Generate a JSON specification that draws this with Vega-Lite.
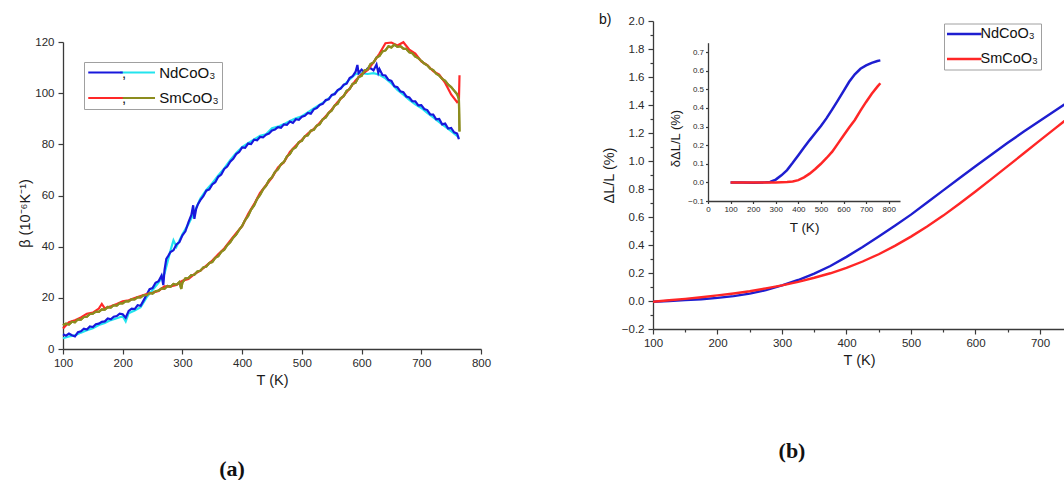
{
  "$schema": "https://vega.github.io/schema/vega-lite/v6.json",
  "background": "white",
  "padding": {"left": 17, "top": 13, "right": 0, "bottom": 0},
  "title": {"text": "b)", "anchor": "start", "frame": "group", "dx": 536, "dy": 12, "offset": 0, "font": "Liberation Sans", "fontSize": 14, "fontWeight": "normal", "color": "#111"},
  "config": {
    "view": {"stroke": null},
    "font": "Liberation Sans",
    "axis": {"grid": false, "domainColor": "#3a3a3a", "tickColor": "#3a3a3a", "labelColor": "#2a2a2a", "titleColor": "#1a1a1a", "labelFont": "Liberation Sans", "titleFont": "Liberation Sans", "titleFontWeight": "normal", "labelFontSize": 11.5, "titleFontSize": 14.5, "domainWidth": 1.3, "tickWidth": 1.2, "labelFlush": false, "labelOverlap": false}
  },
  "datasets": {
    "a": [
      {"T":100,"b":5.8,"s":"NdCoO₃","r":1},{"T":105,"b":5.2,"s":"NdCoO₃","r":1},{"T":110,"b":6.0,"s":"NdCoO₃","r":1},{"T":115,"b":5.4,"s":"NdCoO₃","r":1},{"T":120,"b":4.9,"s":"NdCoO₃","r":1},{"T":125,"b":6.6,"s":"NdCoO₃","r":1},{"T":130,"b":6.9,"s":"NdCoO₃","r":1},{"T":135,"b":7.9,"s":"NdCoO₃","r":1},{"T":140,"b":7.6,"s":"NdCoO₃","r":1},{"T":145,"b":8.8,"s":"NdCoO₃","r":1},{"T":150,"b":8.6,"s":"NdCoO₃","r":1},{"T":155,"b":9.7,"s":"NdCoO₃","r":1},{"T":160,"b":9.9,"s":"NdCoO₃","r":1},{"T":165,"b":10.6,"s":"NdCoO₃","r":1},{"T":170,"b":10.8,"s":"NdCoO₃","r":1},{"T":175,"b":11.9,"s":"NdCoO₃","r":1},{"T":180,"b":11.6,"s":"NdCoO₃","r":1},{"T":185,"b":12.6,"s":"NdCoO₃","r":1},{"T":190,"b":12.9,"s":"NdCoO₃","r":1},{"T":195,"b":13.8,"s":"NdCoO₃","r":1},{"T":200,"b":13.6,"s":"NdCoO₃","r":1},{"T":205,"b":12.2,"s":"NdCoO₃","r":1},{"T":210,"b":14.9,"s":"NdCoO₃","r":1},{"T":215,"b":15.8,"s":"NdCoO₃","r":1},{"T":220,"b":15.6,"s":"NdCoO₃","r":1},{"T":225,"b":17.1,"s":"NdCoO₃","r":1},{"T":230,"b":16.9,"s":"NdCoO₃","r":1},{"T":235,"b":19.0,"s":"NdCoO₃","r":1},{"T":240,"b":21.2,"s":"NdCoO₃","r":1},{"T":245,"b":23.4,"s":"NdCoO₃","r":1},{"T":250,"b":23.8,"s":"NdCoO₃","r":1},{"T":255,"b":25.9,"s":"NdCoO₃","r":1},{"T":260,"b":26.5,"s":"NdCoO₃","r":1},{"T":265,"b":28.7,"s":"NdCoO₃","r":1},{"T":268,"b":25.0,"s":"NdCoO₃","r":1},{"T":270,"b":30.8,"s":"NdCoO₃","r":1},{"T":273,"b":35.2,"s":"NdCoO₃","r":1},{"T":276,"b":36.3,"s":"NdCoO₃","r":1},{"T":280,"b":37.9,"s":"NdCoO₃","r":1},{"T":285,"b":38.6,"s":"NdCoO₃","r":1},{"T":290,"b":40.9,"s":"NdCoO₃","r":1},{"T":295,"b":41.8,"s":"NdCoO₃","r":1},{"T":300,"b":44.4,"s":"NdCoO₃","r":1},{"T":305,"b":46.0,"s":"NdCoO₃","r":1},{"T":310,"b":49.5,"s":"NdCoO₃","r":1},{"T":315,"b":52.4,"s":"NdCoO₃","r":1},{"T":318,"b":56.2,"s":"NdCoO₃","r":1},{"T":320,"b":50.9,"s":"NdCoO₃","r":1},{"T":323,"b":54.8,"s":"NdCoO₃","r":1},{"T":326,"b":56.6,"s":"NdCoO₃","r":1},{"T":330,"b":58.2,"s":"NdCoO₃","r":1},{"T":335,"b":59.7,"s":"NdCoO₃","r":1},{"T":340,"b":61.9,"s":"NdCoO₃","r":1},{"T":345,"b":62.4,"s":"NdCoO₃","r":1},{"T":350,"b":64.3,"s":"NdCoO₃","r":1},{"T":355,"b":65.2,"s":"NdCoO₃","r":1},{"T":360,"b":67.3,"s":"NdCoO₃","r":1},{"T":365,"b":68.2,"s":"NdCoO₃","r":1},{"T":370,"b":70.4,"s":"NdCoO₃","r":1},{"T":375,"b":71.3,"s":"NdCoO₃","r":1},{"T":380,"b":73.2,"s":"NdCoO₃","r":1},{"T":385,"b":74.3,"s":"NdCoO₃","r":1},{"T":390,"b":76.2,"s":"NdCoO₃","r":1},{"T":395,"b":77.0,"s":"NdCoO₃","r":1},{"T":400,"b":78.8,"s":"NdCoO₃","r":1},{"T":405,"b":78.6,"s":"NdCoO₃","r":1},{"T":410,"b":80.3,"s":"NdCoO₃","r":1},{"T":415,"b":80.1,"s":"NdCoO₃","r":1},{"T":420,"b":81.8,"s":"NdCoO₃","r":1},{"T":425,"b":81.6,"s":"NdCoO₃","r":1},{"T":430,"b":82.9,"s":"NdCoO₃","r":1},{"T":435,"b":82.7,"s":"NdCoO₃","r":1},{"T":440,"b":83.8,"s":"NdCoO₃","r":1},{"T":445,"b":84.2,"s":"NdCoO₃","r":1},{"T":450,"b":85.4,"s":"NdCoO₃","r":1},{"T":455,"b":85.8,"s":"NdCoO₃","r":1},{"T":460,"b":86.7,"s":"NdCoO₃","r":1},{"T":465,"b":86.5,"s":"NdCoO₃","r":1},{"T":470,"b":87.8,"s":"NdCoO₃","r":1},{"T":475,"b":87.6,"s":"NdCoO₃","r":1},{"T":480,"b":88.9,"s":"NdCoO₃","r":1},{"T":485,"b":88.4,"s":"NdCoO₃","r":1},{"T":490,"b":89.8,"s":"NdCoO₃","r":1},{"T":495,"b":89.6,"s":"NdCoO₃","r":1},{"T":500,"b":90.8,"s":"NdCoO₃","r":1},{"T":505,"b":91.2,"s":"NdCoO₃","r":1},{"T":510,"b":92.3,"s":"NdCoO₃","r":1},{"T":515,"b":92.0,"s":"NdCoO₃","r":1},{"T":520,"b":93.7,"s":"NdCoO₃","r":1},{"T":525,"b":94.2,"s":"NdCoO₃","r":1},{"T":530,"b":95.4,"s":"NdCoO₃","r":1},{"T":535,"b":95.8,"s":"NdCoO₃","r":1},{"T":540,"b":97.3,"s":"NdCoO₃","r":1},{"T":545,"b":97.6,"s":"NdCoO₃","r":1},{"T":550,"b":99.3,"s":"NdCoO₃","r":1},{"T":555,"b":99.6,"s":"NdCoO₃","r":1},{"T":560,"b":101.2,"s":"NdCoO₃","r":1},{"T":565,"b":101.8,"s":"NdCoO₃","r":1},{"T":570,"b":103.3,"s":"NdCoO₃","r":1},{"T":575,"b":103.7,"s":"NdCoO₃","r":1},{"T":580,"b":105.9,"s":"NdCoO₃","r":1},{"T":585,"b":106.6,"s":"NdCoO₃","r":1},{"T":590,"b":108.4,"s":"NdCoO₃","r":1},{"T":593,"b":111.0,"s":"NdCoO₃","r":1},{"T":595,"b":107.8,"s":"NdCoO₃","r":1},{"T":600,"b":109.2,"s":"NdCoO₃","r":1},{"T":605,"b":108.1,"s":"NdCoO₃","r":1},{"T":610,"b":109.6,"s":"NdCoO₃","r":1},{"T":615,"b":109.8,"s":"NdCoO₃","r":1},{"T":620,"b":108.9,"s":"NdCoO₃","r":1},{"T":625,"b":111.2,"s":"NdCoO₃","r":1},{"T":628,"b":108.0,"s":"NdCoO₃","r":1},{"T":630,"b":109.4,"s":"NdCoO₃","r":1},{"T":635,"b":107.1,"s":"NdCoO₃","r":1},{"T":640,"b":106.9,"s":"NdCoO₃","r":1},{"T":645,"b":105.2,"s":"NdCoO₃","r":1},{"T":650,"b":104.8,"s":"NdCoO₃","r":1},{"T":655,"b":102.7,"s":"NdCoO₃","r":1},{"T":660,"b":102.3,"s":"NdCoO₃","r":1},{"T":665,"b":100.7,"s":"NdCoO₃","r":1},{"T":670,"b":100.4,"s":"NdCoO₃","r":1},{"T":675,"b":98.7,"s":"NdCoO₃","r":1},{"T":680,"b":98.3,"s":"NdCoO₃","r":1},{"T":685,"b":96.9,"s":"NdCoO₃","r":1},{"T":690,"b":96.8,"s":"NdCoO₃","r":1},{"T":695,"b":95.2,"s":"NdCoO₃","r":1},{"T":700,"b":95.3,"s":"NdCoO₃","r":1},{"T":705,"b":93.8,"s":"NdCoO₃","r":1},{"T":710,"b":93.4,"s":"NdCoO₃","r":1},{"T":715,"b":91.7,"s":"NdCoO₃","r":1},{"T":720,"b":91.6,"s":"NdCoO₃","r":1},{"T":725,"b":89.8,"s":"NdCoO₃","r":1},{"T":730,"b":89.9,"s":"NdCoO₃","r":1},{"T":735,"b":87.8,"s":"NdCoO₃","r":1},{"T":740,"b":88.1,"s":"NdCoO₃","r":1},{"T":745,"b":86.2,"s":"NdCoO₃","r":1},{"T":750,"b":86.4,"s":"NdCoO₃","r":1},{"T":755,"b":84.7,"s":"NdCoO₃","r":1},{"T":760,"b":84.2,"s":"NdCoO₃","r":1},{"T":763,"b":82.0,"s":"NdCoO₃","r":1},
      {"T":100,"b":4.2,"s":"NdCoO₃","r":2},{"T":110,"b":4.9,"s":"NdCoO₃","r":2},{"T":120,"b":5.3,"s":"NdCoO₃","r":2},{"T":130,"b":6.4,"s":"NdCoO₃","r":2},{"T":140,"b":7.3,"s":"NdCoO₃","r":2},{"T":150,"b":8.1,"s":"NdCoO₃","r":2},{"T":160,"b":9.4,"s":"NdCoO₃","r":2},{"T":170,"b":10.2,"s":"NdCoO₃","r":2},{"T":180,"b":11.3,"s":"NdCoO₃","r":2},{"T":190,"b":12.0,"s":"NdCoO₃","r":2},{"T":200,"b":12.8,"s":"NdCoO₃","r":2},{"T":205,"b":10.8,"s":"NdCoO₃","r":2},{"T":210,"b":14.0,"s":"NdCoO₃","r":2},{"T":220,"b":15.0,"s":"NdCoO₃","r":2},{"T":230,"b":16.3,"s":"NdCoO₃","r":2},{"T":240,"b":20.2,"s":"NdCoO₃","r":2},{"T":250,"b":23.0,"s":"NdCoO₃","r":2},{"T":260,"b":26.0,"s":"NdCoO₃","r":2},{"T":270,"b":29.5,"s":"NdCoO₃","r":2},{"T":280,"b":38.5,"s":"NdCoO₃","r":2},{"T":285,"b":42.5,"s":"NdCoO₃","r":2},{"T":290,"b":40.0,"s":"NdCoO₃","r":2},{"T":300,"b":44.8,"s":"NdCoO₃","r":2},{"T":310,"b":48.8,"s":"NdCoO₃","r":2},{"T":320,"b":53.5,"s":"NdCoO₃","r":2},{"T":330,"b":58.8,"s":"NdCoO₃","r":2},{"T":340,"b":62.2,"s":"NdCoO₃","r":2},{"T":350,"b":64.8,"s":"NdCoO₃","r":2},{"T":360,"b":67.8,"s":"NdCoO₃","r":2},{"T":370,"b":70.6,"s":"NdCoO₃","r":2},{"T":380,"b":73.8,"s":"NdCoO₃","r":2},{"T":390,"b":76.6,"s":"NdCoO₃","r":2},{"T":400,"b":78.9,"s":"NdCoO₃","r":2},{"T":410,"b":80.5,"s":"NdCoO₃","r":2},{"T":420,"b":81.9,"s":"NdCoO₃","r":2},{"T":430,"b":83.3,"s":"NdCoO₃","r":2},{"T":440,"b":83.9,"s":"NdCoO₃","r":2},{"T":450,"b":86.3,"s":"NdCoO₃","r":2},{"T":460,"b":86.9,"s":"NdCoO₃","r":2},{"T":470,"b":87.9,"s":"NdCoO₃","r":2},{"T":480,"b":89.1,"s":"NdCoO₃","r":2},{"T":490,"b":90.2,"s":"NdCoO₃","r":2},{"T":500,"b":91.0,"s":"NdCoO₃","r":2},{"T":510,"b":92.5,"s":"NdCoO₃","r":2},{"T":520,"b":94.0,"s":"NdCoO₃","r":2},{"T":530,"b":95.5,"s":"NdCoO₃","r":2},{"T":540,"b":97.0,"s":"NdCoO₃","r":2},{"T":550,"b":99.0,"s":"NdCoO₃","r":2},{"T":560,"b":101.0,"s":"NdCoO₃","r":2},{"T":570,"b":103.0,"s":"NdCoO₃","r":2},{"T":580,"b":105.4,"s":"NdCoO₃","r":2},{"T":590,"b":107.5,"s":"NdCoO₃","r":2},{"T":600,"b":107.8,"s":"NdCoO₃","r":2},{"T":610,"b":107.5,"s":"NdCoO₃","r":2},{"T":620,"b":107.8,"s":"NdCoO₃","r":2},{"T":630,"b":107.2,"s":"NdCoO₃","r":2},{"T":640,"b":105.8,"s":"NdCoO₃","r":2},{"T":650,"b":103.8,"s":"NdCoO₃","r":2},{"T":660,"b":101.3,"s":"NdCoO₃","r":2},{"T":670,"b":99.4,"s":"NdCoO₃","r":2},{"T":680,"b":97.4,"s":"NdCoO₃","r":2},{"T":690,"b":95.6,"s":"NdCoO₃","r":2},{"T":700,"b":94.2,"s":"NdCoO₃","r":2},{"T":710,"b":92.3,"s":"NdCoO₃","r":2},{"T":720,"b":90.5,"s":"NdCoO₃","r":2},{"T":730,"b":88.7,"s":"NdCoO₃","r":2},{"T":740,"b":86.9,"s":"NdCoO₃","r":2},{"T":750,"b":85.2,"s":"NdCoO₃","r":2},{"T":760,"b":83.3,"s":"NdCoO₃","r":2},{"T":763,"b":82.5,"s":"NdCoO₃","r":2},
      {"T":100,"b":8.0,"s":"SmCoO₃","r":1},{"T":110,"b":10.5,"s":"SmCoO₃","r":1},{"T":120,"b":11.2,"s":"SmCoO₃","r":1},{"T":130,"b":12.3,"s":"SmCoO₃","r":1},{"T":140,"b":13.8,"s":"SmCoO₃","r":1},{"T":150,"b":14.2,"s":"SmCoO₃","r":1},{"T":160,"b":15.8,"s":"SmCoO₃","r":1},{"T":165,"b":17.6,"s":"SmCoO₃","r":1},{"T":170,"b":15.9,"s":"SmCoO₃","r":1},{"T":180,"b":16.7,"s":"SmCoO₃","r":1},{"T":190,"b":17.6,"s":"SmCoO₃","r":1},{"T":200,"b":18.6,"s":"SmCoO₃","r":1},{"T":210,"b":19.0,"s":"SmCoO₃","r":1},{"T":220,"b":19.9,"s":"SmCoO₃","r":1},{"T":230,"b":20.7,"s":"SmCoO₃","r":1},{"T":240,"b":21.5,"s":"SmCoO₃","r":1},{"T":250,"b":22.0,"s":"SmCoO₃","r":1},{"T":260,"b":22.7,"s":"SmCoO₃","r":1},{"T":270,"b":24.5,"s":"SmCoO₃","r":1},{"T":280,"b":24.5,"s":"SmCoO₃","r":1},{"T":290,"b":25.0,"s":"SmCoO₃","r":1},{"T":300,"b":26.7,"s":"SmCoO₃","r":1},{"T":310,"b":27.4,"s":"SmCoO₃","r":1},{"T":320,"b":29.3,"s":"SmCoO₃","r":1},{"T":330,"b":30.6,"s":"SmCoO₃","r":1},{"T":340,"b":32.6,"s":"SmCoO₃","r":1},{"T":350,"b":34.6,"s":"SmCoO₃","r":1},{"T":360,"b":37.0,"s":"SmCoO₃","r":1},{"T":370,"b":39.3,"s":"SmCoO₃","r":1},{"T":380,"b":42.3,"s":"SmCoO₃","r":1},{"T":390,"b":45.3,"s":"SmCoO₃","r":1},{"T":400,"b":48.0,"s":"SmCoO₃","r":1},{"T":410,"b":52.8,"s":"SmCoO₃","r":1},{"T":420,"b":56.6,"s":"SmCoO₃","r":1},{"T":430,"b":61.0,"s":"SmCoO₃","r":1},{"T":440,"b":64.0,"s":"SmCoO₃","r":1},{"T":450,"b":67.0,"s":"SmCoO₃","r":1},{"T":460,"b":71.0,"s":"SmCoO₃","r":1},{"T":470,"b":73.0,"s":"SmCoO₃","r":1},{"T":480,"b":77.0,"s":"SmCoO₃","r":1},{"T":490,"b":79.5,"s":"SmCoO₃","r":1},{"T":500,"b":81.8,"s":"SmCoO₃","r":1},{"T":510,"b":84.2,"s":"SmCoO₃","r":1},{"T":520,"b":86.0,"s":"SmCoO₃","r":1},{"T":530,"b":88.4,"s":"SmCoO₃","r":1},{"T":540,"b":91.0,"s":"SmCoO₃","r":1},{"T":550,"b":93.6,"s":"SmCoO₃","r":1},{"T":560,"b":96.6,"s":"SmCoO₃","r":1},{"T":570,"b":99.0,"s":"SmCoO₃","r":1},{"T":580,"b":101.8,"s":"SmCoO₃","r":1},{"T":590,"b":105.0,"s":"SmCoO₃","r":1},{"T":600,"b":107.5,"s":"SmCoO₃","r":1},{"T":610,"b":109.0,"s":"SmCoO₃","r":1},{"T":620,"b":112.0,"s":"SmCoO₃","r":1},{"T":630,"b":115.5,"s":"SmCoO₃","r":1},{"T":640,"b":119.5,"s":"SmCoO₃","r":1},{"T":650,"b":119.8,"s":"SmCoO₃","r":1},{"T":660,"b":118.6,"s":"SmCoO₃","r":1},{"T":670,"b":119.9,"s":"SmCoO₃","r":1},{"T":680,"b":117.0,"s":"SmCoO₃","r":1},{"T":690,"b":115.5,"s":"SmCoO₃","r":1},{"T":700,"b":112.4,"s":"SmCoO₃","r":1},{"T":710,"b":111.0,"s":"SmCoO₃","r":1},{"T":720,"b":108.6,"s":"SmCoO₃","r":1},{"T":730,"b":107.3,"s":"SmCoO₃","r":1},{"T":740,"b":104.0,"s":"SmCoO₃","r":1},{"T":750,"b":99.5,"s":"SmCoO₃","r":1},{"T":760,"b":96.5,"s":"SmCoO₃","r":1},{"T":763,"b":97.0,"s":"SmCoO₃","r":1},{"T":764,"b":107.0,"s":"SmCoO₃","r":1},
      {"T":100,"b":9.3,"s":"SmCoO₃","r":2},{"T":105,"b":9.9,"s":"SmCoO₃","r":2},{"T":110,"b":9.6,"s":"SmCoO₃","r":2},{"T":115,"b":10.7,"s":"SmCoO₃","r":2},{"T":120,"b":10.4,"s":"SmCoO₃","r":2},{"T":125,"b":11.6,"s":"SmCoO₃","r":2},{"T":130,"b":11.5,"s":"SmCoO₃","r":2},{"T":135,"b":12.5,"s":"SmCoO₃","r":2},{"T":140,"b":12.6,"s":"SmCoO₃","r":2},{"T":145,"b":13.7,"s":"SmCoO₃","r":2},{"T":150,"b":13.8,"s":"SmCoO₃","r":2},{"T":155,"b":14.6,"s":"SmCoO₃","r":2},{"T":160,"b":14.5,"s":"SmCoO₃","r":2},{"T":165,"b":15.5,"s":"SmCoO₃","r":2},{"T":170,"b":15.4,"s":"SmCoO₃","r":2},{"T":175,"b":16.4,"s":"SmCoO₃","r":2},{"T":180,"b":16.2,"s":"SmCoO₃","r":2},{"T":185,"b":17.1,"s":"SmCoO₃","r":2},{"T":190,"b":17.0,"s":"SmCoO₃","r":2},{"T":195,"b":17.9,"s":"SmCoO₃","r":2},{"T":200,"b":17.8,"s":"SmCoO₃","r":2},{"T":205,"b":18.7,"s":"SmCoO₃","r":2},{"T":210,"b":18.6,"s":"SmCoO₃","r":2},{"T":215,"b":19.5,"s":"SmCoO₃","r":2},{"T":220,"b":19.4,"s":"SmCoO₃","r":2},{"T":225,"b":20.3,"s":"SmCoO₃","r":2},{"T":230,"b":20.2,"s":"SmCoO₃","r":2},{"T":235,"b":21.1,"s":"SmCoO₃","r":2},{"T":240,"b":21.0,"s":"SmCoO₃","r":2},{"T":245,"b":21.9,"s":"SmCoO₃","r":2},{"T":250,"b":21.7,"s":"SmCoO₃","r":2},{"T":255,"b":22.6,"s":"SmCoO₃","r":2},{"T":260,"b":22.8,"s":"SmCoO₃","r":2},{"T":265,"b":23.7,"s":"SmCoO₃","r":2},{"T":270,"b":23.5,"s":"SmCoO₃","r":2},{"T":275,"b":24.6,"s":"SmCoO₃","r":2},{"T":280,"b":24.3,"s":"SmCoO₃","r":2},{"T":285,"b":25.4,"s":"SmCoO₃","r":2},{"T":290,"b":25.1,"s":"SmCoO₃","r":2},{"T":295,"b":26.2,"s":"SmCoO₃","r":2},{"T":298,"b":23.5,"s":"SmCoO₃","r":2},{"T":300,"b":26.0,"s":"SmCoO₃","r":2},{"T":305,"b":27.6,"s":"SmCoO₃","r":2},{"T":310,"b":27.7,"s":"SmCoO₃","r":2},{"T":315,"b":28.9,"s":"SmCoO₃","r":2},{"T":320,"b":29.0,"s":"SmCoO₃","r":2},{"T":325,"b":30.3,"s":"SmCoO₃","r":2},{"T":330,"b":30.6,"s":"SmCoO₃","r":2},{"T":335,"b":31.9,"s":"SmCoO₃","r":2},{"T":340,"b":32.2,"s":"SmCoO₃","r":2},{"T":345,"b":33.6,"s":"SmCoO₃","r":2},{"T":350,"b":34.0,"s":"SmCoO₃","r":2},{"T":355,"b":35.6,"s":"SmCoO₃","r":2},{"T":360,"b":36.3,"s":"SmCoO₃","r":2},{"T":365,"b":38.0,"s":"SmCoO₃","r":2},{"T":370,"b":38.8,"s":"SmCoO₃","r":2},{"T":375,"b":40.6,"s":"SmCoO₃","r":2},{"T":380,"b":41.7,"s":"SmCoO₃","r":2},{"T":385,"b":43.5,"s":"SmCoO₃","r":2},{"T":390,"b":44.7,"s":"SmCoO₃","r":2},{"T":395,"b":46.6,"s":"SmCoO₃","r":2},{"T":400,"b":48.1,"s":"SmCoO₃","r":2},{"T":405,"b":50.4,"s":"SmCoO₃","r":2},{"T":410,"b":52.0,"s":"SmCoO₃","r":2},{"T":415,"b":54.5,"s":"SmCoO₃","r":2},{"T":420,"b":56.1,"s":"SmCoO₃","r":2},{"T":425,"b":58.6,"s":"SmCoO₃","r":2},{"T":430,"b":60.2,"s":"SmCoO₃","r":2},{"T":435,"b":62.4,"s":"SmCoO₃","r":2},{"T":440,"b":63.8,"s":"SmCoO₃","r":2},{"T":445,"b":66.0,"s":"SmCoO₃","r":2},{"T":450,"b":67.1,"s":"SmCoO₃","r":2},{"T":455,"b":69.2,"s":"SmCoO₃","r":2},{"T":460,"b":70.2,"s":"SmCoO₃","r":2},{"T":465,"b":72.2,"s":"SmCoO₃","r":2},{"T":470,"b":73.1,"s":"SmCoO₃","r":2},{"T":475,"b":75.3,"s":"SmCoO₃","r":2},{"T":480,"b":76.2,"s":"SmCoO₃","r":2},{"T":485,"b":78.2,"s":"SmCoO₃","r":2},{"T":490,"b":78.9,"s":"SmCoO₃","r":2},{"T":495,"b":80.9,"s":"SmCoO₃","r":2},{"T":500,"b":81.4,"s":"SmCoO₃","r":2},{"T":505,"b":83.2,"s":"SmCoO₃","r":2},{"T":510,"b":83.5,"s":"SmCoO₃","r":2},{"T":515,"b":85.3,"s":"SmCoO₃","r":2},{"T":520,"b":85.7,"s":"SmCoO₃","r":2},{"T":525,"b":87.3,"s":"SmCoO₃","r":2},{"T":530,"b":87.9,"s":"SmCoO₃","r":2},{"T":535,"b":89.8,"s":"SmCoO₃","r":2},{"T":540,"b":90.5,"s":"SmCoO₃","r":2},{"T":545,"b":92.3,"s":"SmCoO₃","r":2},{"T":550,"b":93.2,"s":"SmCoO₃","r":2},{"T":555,"b":95.2,"s":"SmCoO₃","r":2},{"T":560,"b":95.9,"s":"SmCoO₃","r":2},{"T":565,"b":98.0,"s":"SmCoO₃","r":2},{"T":570,"b":98.8,"s":"SmCoO₃","r":2},{"T":575,"b":100.9,"s":"SmCoO₃","r":2},{"T":580,"b":101.6,"s":"SmCoO₃","r":2},{"T":585,"b":103.6,"s":"SmCoO₃","r":2},{"T":590,"b":104.1,"s":"SmCoO₃","r":2},{"T":595,"b":106.3,"s":"SmCoO₃","r":2},{"T":600,"b":106.8,"s":"SmCoO₃","r":2},{"T":605,"b":108.9,"s":"SmCoO₃","r":2},{"T":610,"b":109.2,"s":"SmCoO₃","r":2},{"T":615,"b":111.4,"s":"SmCoO₃","r":2},{"T":620,"b":112.0,"s":"SmCoO₃","r":2},{"T":625,"b":113.9,"s":"SmCoO₃","r":2},{"T":630,"b":114.6,"s":"SmCoO₃","r":2},{"T":635,"b":116.3,"s":"SmCoO₃","r":2},{"T":640,"b":116.7,"s":"SmCoO₃","r":2},{"T":645,"b":118.3,"s":"SmCoO₃","r":2},{"T":650,"b":117.9,"s":"SmCoO₃","r":2},{"T":655,"b":119.0,"s":"SmCoO₃","r":2},{"T":660,"b":118.1,"s":"SmCoO₃","r":2},{"T":665,"b":118.4,"s":"SmCoO₃","r":2},{"T":670,"b":117.4,"s":"SmCoO₃","r":2},{"T":675,"b":117.3,"s":"SmCoO₃","r":2},{"T":680,"b":116.0,"s":"SmCoO₃","r":2},{"T":685,"b":115.6,"s":"SmCoO₃","r":2},{"T":690,"b":114.3,"s":"SmCoO₃","r":2},{"T":695,"b":113.7,"s":"SmCoO₃","r":2},{"T":700,"b":112.6,"s":"SmCoO₃","r":2},{"T":705,"b":111.6,"s":"SmCoO₃","r":2},{"T":710,"b":110.9,"s":"SmCoO₃","r":2},{"T":715,"b":109.6,"s":"SmCoO₃","r":2},{"T":720,"b":109.0,"s":"SmCoO₃","r":2},{"T":725,"b":107.6,"s":"SmCoO₃","r":2},{"T":730,"b":106.9,"s":"SmCoO₃","r":2},{"T":735,"b":105.6,"s":"SmCoO₃","r":2},{"T":740,"b":104.8,"s":"SmCoO₃","r":2},{"T":745,"b":103.3,"s":"SmCoO₃","r":2},{"T":750,"b":102.4,"s":"SmCoO₃","r":2},{"T":755,"b":101.0,"s":"SmCoO₃","r":2},{"T":760,"b":99.6,"s":"SmCoO₃","r":2},{"T":763,"b":97.8,"s":"SmCoO₃","r":2},{"T":764,"b":85.0,"s":"SmCoO₃","r":2}
    ],
    "b": [
      {"T":100,"v":-0.005,"s":"NdCoO₃"},{"T":125,"v":0.0,"s":"NdCoO₃"},{"T":150,"v":0.006,"s":"NdCoO₃"},{"T":175,"v":0.013,"s":"NdCoO₃"},{"T":200,"v":0.022,"s":"NdCoO₃"},{"T":225,"v":0.035,"s":"NdCoO₃"},{"T":250,"v":0.053,"s":"NdCoO₃"},{"T":275,"v":0.078,"s":"NdCoO₃"},{"T":300,"v":0.112,"s":"NdCoO₃"},{"T":325,"v":0.15,"s":"NdCoO₃"},{"T":350,"v":0.195,"s":"NdCoO₃"},{"T":375,"v":0.25,"s":"NdCoO₃"},{"T":400,"v":0.315,"s":"NdCoO₃"},{"T":425,"v":0.385,"s":"NdCoO₃"},{"T":450,"v":0.46,"s":"NdCoO₃"},{"T":475,"v":0.538,"s":"NdCoO₃"},{"T":500,"v":0.617,"s":"NdCoO₃"},{"T":525,"v":0.703,"s":"NdCoO₃"},{"T":550,"v":0.79,"s":"NdCoO₃"},{"T":575,"v":0.877,"s":"NdCoO₃"},{"T":600,"v":0.962,"s":"NdCoO₃"},{"T":625,"v":1.047,"s":"NdCoO₃"},{"T":650,"v":1.13,"s":"NdCoO₃"},{"T":675,"v":1.21,"s":"NdCoO₃"},{"T":700,"v":1.288,"s":"NdCoO₃"},{"T":725,"v":1.365,"s":"NdCoO₃"},{"T":750,"v":1.44,"s":"NdCoO₃"},{"T":763,"v":1.475,"s":"NdCoO₃"},
      {"T":100,"v":-0.005,"s":"SmCoO₃"},{"T":125,"v":0.005,"s":"SmCoO₃"},{"T":150,"v":0.015,"s":"SmCoO₃"},{"T":175,"v":0.027,"s":"SmCoO₃"},{"T":200,"v":0.04,"s":"SmCoO₃"},{"T":225,"v":0.054,"s":"SmCoO₃"},{"T":250,"v":0.07,"s":"SmCoO₃"},{"T":275,"v":0.09,"s":"SmCoO₃"},{"T":300,"v":0.112,"s":"SmCoO₃"},{"T":325,"v":0.137,"s":"SmCoO₃"},{"T":350,"v":0.166,"s":"SmCoO₃"},{"T":375,"v":0.198,"s":"SmCoO₃"},{"T":400,"v":0.236,"s":"SmCoO₃"},{"T":425,"v":0.282,"s":"SmCoO₃"},{"T":450,"v":0.334,"s":"SmCoO₃"},{"T":475,"v":0.394,"s":"SmCoO₃"},{"T":500,"v":0.46,"s":"SmCoO₃"},{"T":525,"v":0.532,"s":"SmCoO₃"},{"T":550,"v":0.61,"s":"SmCoO₃"},{"T":575,"v":0.695,"s":"SmCoO₃"},{"T":600,"v":0.782,"s":"SmCoO₃"},{"T":625,"v":0.872,"s":"SmCoO₃"},{"T":650,"v":0.963,"s":"SmCoO₃"},{"T":675,"v":1.055,"s":"SmCoO₃"},{"T":700,"v":1.147,"s":"SmCoO₃"},{"T":725,"v":1.238,"s":"SmCoO₃"},{"T":750,"v":1.33,"s":"SmCoO₃"},{"T":763,"v":1.375,"s":"SmCoO₃"}
    ],
    "inset": [
      {"T":100,"d":0.0,"s":"NdCoO₃"},{"T":150,"d":0.0,"s":"NdCoO₃"},{"T":200,"d":-0.002,"s":"NdCoO₃"},{"T":250,"d":0.0,"s":"NdCoO₃"},{"T":275,"d":0.002,"s":"NdCoO₃"},{"T":300,"d":0.015,"s":"NdCoO₃"},{"T":325,"d":0.038,"s":"NdCoO₃"},{"T":350,"d":0.066,"s":"NdCoO₃"},{"T":375,"d":0.105,"s":"NdCoO₃"},{"T":400,"d":0.146,"s":"NdCoO₃"},{"T":425,"d":0.187,"s":"NdCoO₃"},{"T":450,"d":0.227,"s":"NdCoO₃"},{"T":475,"d":0.265,"s":"NdCoO₃"},{"T":500,"d":0.303,"s":"NdCoO₃"},{"T":525,"d":0.345,"s":"NdCoO₃"},{"T":550,"d":0.392,"s":"NdCoO₃"},{"T":575,"d":0.44,"s":"NdCoO₃"},{"T":600,"d":0.49,"s":"NdCoO₃"},{"T":625,"d":0.54,"s":"NdCoO₃"},{"T":650,"d":0.58,"s":"NdCoO₃"},{"T":675,"d":0.61,"s":"NdCoO₃"},{"T":700,"d":0.628,"s":"NdCoO₃"},{"T":725,"d":0.642,"s":"NdCoO₃"},{"T":750,"d":0.652,"s":"NdCoO₃"},{"T":763,"d":0.655,"s":"NdCoO₃"},
      {"T":100,"d":0.0,"s":"SmCoO₃"},{"T":200,"d":-0.001,"s":"SmCoO₃"},{"T":300,"d":0.0,"s":"SmCoO₃"},{"T":350,"d":0.002,"s":"SmCoO₃"},{"T":375,"d":0.005,"s":"SmCoO₃"},{"T":400,"d":0.012,"s":"SmCoO₃"},{"T":425,"d":0.027,"s":"SmCoO₃"},{"T":450,"d":0.047,"s":"SmCoO₃"},{"T":475,"d":0.072,"s":"SmCoO₃"},{"T":500,"d":0.1,"s":"SmCoO₃"},{"T":525,"d":0.131,"s":"SmCoO₃"},{"T":550,"d":0.165,"s":"SmCoO₃"},{"T":575,"d":0.208,"s":"SmCoO₃"},{"T":600,"d":0.252,"s":"SmCoO₃"},{"T":625,"d":0.295,"s":"SmCoO₃"},{"T":650,"d":0.335,"s":"SmCoO₃"},{"T":675,"d":0.385,"s":"SmCoO₃"},{"T":700,"d":0.432,"s":"SmCoO₃"},{"T":725,"d":0.476,"s":"SmCoO₃"},{"T":750,"d":0.514,"s":"SmCoO₃"},{"T":763,"d":0.532,"s":"SmCoO₃"}
    ]
  },
  "bounds": "flush",
  "spacing": 172,
  "resolve": {"scale": {"color": "independent"}, "legend": {"color": "independent"}},
  "hconcat": [
    {
      "width": 418,
      "height": 328,
      "title": {"text": "(a)", "orient": "bottom", "anchor": "middle", "frame": "group", "dx": -40, "offset": 72, "font": "Liberation Serif", "fontSize": 22, "fontWeight": "bold", "color": "#111"},
      "data": {"name": "a"},
      "resolve": {"scale": {"color": "independent"}},
      "layer": [
        {
          "transform": [{"filter": "datum.r == 2"}],
          "mark": {"type": "line", "strokeWidth": 2.2},
          "encoding": {
            "x": {"field": "T", "type": "quantitative", "scale": {"domain": [100, 800], "nice": false, "zero": false},
                  "axis": {"title": "T (K)", "values": [100,150,200,250,300,350,400,450,500,550,600,650,700,750,800], "labelExpr": "datum.value % 100 === 0 ? datum.label : ''", "tickSize": {"condition": {"test": "datum.value % 100 === 0", "value": 5}, "value": 3}, "labelPadding": 3, "titlePadding": 5}},
            "y": {"field": "b", "type": "quantitative", "scale": {"domain": [0, 120], "range": [328, 21], "nice": false, "zero": false},
                  "axis": {"title": "β (10⁻⁶K⁻¹)", "values": [0,10,20,30,40,50,60,70,80,90,100,110,120], "labelExpr": "datum.value % 20 === 0 ? datum.label : ''", "tickSize": {"condition": {"test": "datum.value % 20 === 0", "value": 5}, "value": 3}, "labelPadding": 4, "titlePadding": 2, "titleY": 192}},
            "color": {"field": "s", "type": "nominal", "scale": {"domain": ["NdCoO₃", "SmCoO₃"], "range": ["#22e4ee", "#8c8c1e"]},
                      "legend": {"orient": "none", "legendX": 53, "legendY": 41, "title": null, "symbolType": "stroke", "symbolSize": 1225, "symbolStrokeWidth": 2, "labelExpr": "''", "labelFontSize": 15, "padding": 3, "clipHeight": 15, "rowPadding": 9.5}}
          }
        },
        {
          "transform": [{"filter": "datum.r == 1"}],
          "mark": {"type": "line", "strokeWidth": 2.2},
          "encoding": {
            "x": {"field": "T", "type": "quantitative"},
            "y": {"field": "b", "type": "quantitative"},
            "color": {"field": "s", "type": "nominal", "scale": {"domain": ["NdCoO₃", "SmCoO₃"], "range": ["#1818dc", "#ff2828"]},
                      "legend": {"orient": "none", "legendX": 21, "legendY": 41, "title": null, "symbolType": "stroke", "symbolSize": 1190, "symbolStrokeWidth": 2, "labelExpr": "',\u2003\u2003\u2009' + datum.label", "labelFont": "Liberation Sans", "labelFontSize": 15, "labelColor": "#111", "labelOffset": -2, "padding": 3, "clipHeight": 15, "rowPadding": 9.5, "strokeColor": "#a0a0a0"}}
          }
        },
        {
          "transform": [{"filter": "datum.r == 2 && datum.s == 'SmCoO₃'"}],
          "mark": {"type": "line", "strokeWidth": 2.2, "color": "#8c8c1e"},
          "encoding": {
            "x": {"field": "T", "type": "quantitative"},
            "y": {"field": "b", "type": "quantitative"}
          }
        }
      ]
    },
    {
      "width": 412,
      "height": 308,
      "title": {"text": "(b)", "orient": "bottom", "anchor": "middle", "frame": "group", "dx": -67, "offset": 74, "font": "Liberation Serif", "fontSize": 22, "fontWeight": "bold", "color": "#111"},
      "resolve": {"scale": {"x": "independent", "y": "independent"}},
      "layer": [
        {
          "data": {"name": "b"},
          "mark": {"type": "line", "strokeWidth": 2.4, "clip": true},
          "encoding": {
            "x": {"field": "T", "type": "quantitative", "scale": {"domain": [100, 738.8], "nice": false, "zero": false},
                  "axis": {"title": "T (K)", "values": [100,150,200,250,300,350,400,450,500,550,600,650,700], "labelExpr": "datum.value % 100 === 0 ? datum.label : ''", "tickSize": {"condition": {"test": "datum.value % 100 === 0", "value": 5}, "value": 3}, "labelPadding": 3, "titlePadding": 5}},
            "y": {"field": "v", "type": "quantitative", "scale": {"domain": [-0.2, 2.0], "nice": false, "zero": false},
                  "axis": {"title": "ΔL/L (%)", "format": ".1f", "values": [-0.2,-0.1,0,0.1,0.2,0.3,0.4,0.5,0.6,0.7,0.8,0.9,1,1.1,1.2,1.3,1.4,1.5,1.6,1.7,1.8,1.9,2], "labelExpr": "round(datum.value*10) % 2 === 0 ? datum.label : ''", "tickSize": {"condition": {"test": "round(datum.value*10) % 2 === 0", "value": 5}, "value": 3}, "labelPadding": 4, "titlePadding": 5}},
            "color": {"field": "s", "type": "nominal", "scale": {"domain": ["NdCoO₃", "SmCoO₃"], "range": ["#1e1ed0", "#ff2626"]},
                      "legend": {"orient": "none", "legendX": 291, "legendY": 2.5, "title": null, "symbolType": "stroke", "symbolSize": 1296, "symbolStrokeWidth": 2.5, "symbolOffset": -3, "labelFont": "Liberation Sans", "labelFontSize": 14.5, "labelColor": "#111", "labelOffset": -2.5, "padding": 3, "clipHeight": 15, "rowPadding": 9, "strokeColor": "#a0a0a0", "fillColor": "white"}}
          }
        },
        {
          "data": {"name": "inset"},
          "mark": {"type": "line", "strokeWidth": 2.5},
          "encoding": {
            "x": {"field": "T", "type": "quantitative", "scale": {"domain": [0, 850], "range": [55, 247], "nice": false, "zero": false},
                  "axis": {"orient": "bottom", "offset": -128, "title": "T (K)", "values": [0,100,200,300,400,500,600,700,800], "labelFontSize": 8, "tickSize": 2.5, "labelPadding": 1.5, "titleFontSize": 13.5, "titlePadding": 7}},
            "y": {"field": "d", "type": "quantitative", "scale": {"domain": [-0.1, 0.75], "range": [180, 21.7], "nice": false, "zero": false},
                  "axis": {"orient": "left", "offset": -55, "title": "δΔL/L (%)", "format": ".1f", "values": [-0.1,0,0.1,0.2,0.3,0.4,0.5,0.6,0.7], "labelFontSize": 8, "tickSize": 2.5, "labelPadding": 2, "titleFontSize": 13, "titlePadding": 5, "titleY": 117}},
            "color": {"field": "s", "type": "nominal"}
          }
        }
      ]
    }
  ]
}
